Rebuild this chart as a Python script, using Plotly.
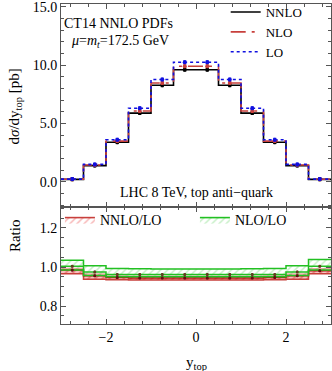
import plotly.graph_objects as go

# bin edges and centres in y_top
edges = [-3.0, -2.5, -2.0, -1.5, -1.0, -0.5, 0.0, 0.5, 1.0, 1.5, 2.0, 2.5, 3.0]
centers = [-2.75, -2.25, -1.75, -1.25, -0.75, -0.25, 0.25, 0.75, 1.25, 1.75, 2.25, 2.75]

# d sigma / d y_top [pb]
nnlo = [0.22, 1.40, 3.40, 5.90, 8.28, 9.62, 9.62, 8.28, 5.90, 3.40, 1.40, 0.22]
nlo = [0.23, 1.45, 3.50, 6.08, 8.48, 9.92, 9.92, 8.48, 6.08, 3.50, 1.45, 0.23]
lo = [0.24, 1.50, 3.62, 6.32, 8.78, 10.26, 10.26, 8.78, 6.32, 3.62, 1.50, 0.24]

# ratios to LO
r_nlo = [1.004, 0.975, 0.962, 0.962, 0.962, 0.962, 0.962, 0.962, 0.962, 0.962, 0.975, 1.004]
r_nlo_hi = [1.034, 1.006, 0.992, 0.991, 0.990, 0.990, 0.990, 0.990, 0.991, 0.992, 1.006, 1.038]
r_nlo_lo = [0.985, 0.956, 0.950, 0.950, 0.950, 0.950, 0.950, 0.950, 0.950, 0.950, 0.956, 0.985]
r_nnlo = [0.984, 0.955, 0.946, 0.944, 0.944, 0.944, 0.944, 0.944, 0.944, 0.946, 0.955, 0.981]
r_nnlo_hi = [0.994, 0.965, 0.955, 0.954, 0.954, 0.954, 0.954, 0.954, 0.954, 0.955, 0.965, 0.992]
r_nnlo_lo = [0.966, 0.937, 0.935, 0.933, 0.933, 0.933, 0.933, 0.933, 0.933, 0.935, 0.937, 0.966]

FONT = "Liberation Serif"
RED = "#c8403c"
BLUE = "#1010e0"
GREEN = "#22c022"


def step(v):
    return v + [v[-1]]


fig = go.Figure()

# ---- top panel ----
fig.add_trace(go.Scatter(x=edges, y=step(nnlo), mode="lines", line_shape="hv",
                         line=dict(color="black", width=1.6), name="NNLO"))
fig.add_trace(go.Scatter(x=edges, y=step(nlo), mode="lines", line_shape="hv",
                         line=dict(color=RED, width=1.6, dash="longdashdot"), name="NLO"))
fig.add_trace(go.Scatter(x=edges, y=step(lo), mode="lines", line_shape="hv",
                         line=dict(color=BLUE, width=1.6, dash="dot"), name="LO"))
for vals, col in [(nnlo, "black"), (nlo, RED), (lo, BLUE)]:
    fig.add_trace(go.Scatter(x=centers, y=vals, mode="markers", showlegend=False,
                             marker=dict(color=col, size=4),
                             error_y=dict(type="constant", value=0.12, color=col,
                                          thickness=1, width=1.5)))

# ---- ratio panel ----
fig.add_trace(go.Scatter(x=edges, y=step(r_nnlo_lo), mode="lines", line_shape="hv",
                         line=dict(color=RED, width=1.5), showlegend=False,
                         xaxis="x2", yaxis="y2"))
fig.add_trace(go.Scatter(x=edges, y=step(r_nnlo_hi), mode="lines", line_shape="hv",
                         line=dict(color="rgba(200,64,60,0.5)", width=0.8), fill="tonexty",
                         fillcolor="rgba(0,0,0,0)",
                         fillpattern=dict(shape="/", fgcolor="#d83838", bgcolor="rgba(235,120,120,0.45)",
                                          size=5, solidity=0.35),
                         showlegend=False, xaxis="x2", yaxis="y2"))
fig.add_trace(go.Scatter(x=edges, y=step(r_nnlo), mode="lines", line_shape="hv",
                         line=dict(color="#b01010", width=1.5), showlegend=False,
                         xaxis="x2", yaxis="y2"))

fig.add_trace(go.Scatter(x=edges, y=step(r_nlo_lo), mode="lines", line_shape="hv",
                         line=dict(color=GREEN, width=1.5), showlegend=False,
                         xaxis="x2", yaxis="y2"))
fig.add_trace(go.Scatter(x=edges, y=step(r_nlo_hi), mode="lines", line_shape="hv",
                         line=dict(color=GREEN, width=1.5), fill="tonexty",
                         fillcolor="rgba(0,0,0,0)",
                         fillpattern=dict(shape="/", fgcolor="#90e090", bgcolor="rgba(0,0,0,0)",
                                          size=5, solidity=0.3),
                         showlegend=False, xaxis="x2", yaxis="y2"))
fig.add_trace(go.Scatter(x=edges, y=step(r_nlo), mode="lines", line_shape="hv",
                         line=dict(color=GREEN, width=1.5), showlegend=False,
                         xaxis="x2", yaxis="y2"))
for vals, col in [(r_nlo, "#604020"), (r_nnlo, "#601010")]:
    fig.add_trace(go.Scatter(x=centers, y=vals, mode="markers", showlegend=False,
                             marker=dict(color=col, size=3),
                             error_y=dict(type="constant", value=0.004, color=col,
                                          thickness=1, width=1),
                             xaxis="x2", yaxis="y2"))

# legend entries for the ratio bands
fig.add_trace(go.Scatter(x=[None], y=[None], mode="lines", name="NNLO/LO",
                         line=dict(color=RED, width=1.6), fill="toself",
                         fillcolor="rgba(0,0,0,0)",
                         fillpattern=dict(shape="/", fgcolor="#f07070", bgcolor="white",
                                          size=5, solidity=0.3),
                         legend="legend2", xaxis="x2", yaxis="y2"))
fig.add_trace(go.Scatter(x=[None], y=[None], mode="lines", name="NLO/LO",
                         line=dict(color=GREEN, width=1.6), fill="toself",
                         fillcolor="rgba(0,0,0,0)",
                         fillpattern=dict(shape="/", fgcolor="#90e090", bgcolor="white",
                                          size=5, solidity=0.3),
                         legend="legend3", xaxis="x2", yaxis="y2"))

axis_common = dict(showline=True, linecolor="#555555", linewidth=1, mirror="ticks",
                   ticks="inside", ticklen=5, tickcolor="#555555", showgrid=False,
                   zeroline=False, automargin=False, ticklabeloverflow="allow",
                   tickfont=dict(family=FONT, size=14, color="black"))

legend_common = dict(bgcolor="rgba(0,0,0,0)", font=dict(family=FONT, size=14),
                     itemwidth=30, tracegroupgap=0)

fig.update_layout(
    width=332, height=371,
    margin=dict(l=61, r=1, t=4, b=47, autoexpand=False),
    plot_bgcolor="white", paper_bgcolor="white",
    font=dict(family=FONT, size=14, color="black"),
    xaxis=dict(**axis_common, domain=[0, 1], range=[-3, 3], anchor="y",
               showticklabels=False, dtick=2, tick0=0, matches="x2",
               minor=dict(ticks="inside", dtick=0.4, tick0=0, ticklen=3, tickcolor="#555555")),
    yaxis=dict(**axis_common, domain=[0.366, 1], range=[-2.14, 15.25], anchor="x",
               dtick=5, tickformat=".1f",
               minor=dict(ticks="inside", dtick=1, ticklen=3, tickcolor="#555555")),
    xaxis2=dict(**axis_common, domain=[0, 1], range=[-3, 3], anchor="y2",
                dtick=2, tick0=0, tickformat="d",
                minor=dict(ticks="inside", dtick=0.4, tick0=0, ticklen=3, tickcolor="#555555")),
    yaxis2=dict(**axis_common, domain=[0, 0.366], range=[0.708, 1.308], anchor="x2",
                dtick=0.2, tick0=0, tickformat=".1f",
                minor=dict(ticks="inside", dtick=0.05, tick0=0, ticklen=3, tickcolor="#555555")),
    legend=dict(bgcolor="rgba(0,0,0,0)", font=dict(family=FONT, size=13),
                itemwidth=30, tracegroupgap=0,
                x=0.61, y=0.9125, xanchor="left", yanchor="middle", traceorder="normal"),
    legend2=dict(**legend_common, x=-0.004, y=0.325, xanchor="left", yanchor="middle"),
    legend3=dict(**legend_common, x=0.496, y=0.325, xanchor="left", yanchor="middle"),
    annotations=[
        dict(text="CT14 NNLO PDFs", x=0.005, y=0.938, xref="paper", yref="paper",
             showarrow=False, xanchor="left", yanchor="middle", font=dict(size=14)),
        dict(text="<i>μ</i>=<i>m<sub>t</sub></i>=172.5 GeV", x=0.03, y=0.884, xref="paper",
             yref="paper", showarrow=False, xanchor="left", yanchor="middle", font=dict(size=14)),
        dict(text="LHC 8 TeV, top anti−quark", x=0.21, y=0.4125, xref="paper", yref="paper",
             showarrow=False, xanchor="left", yanchor="middle", font=dict(size=14)),
        dict(text="d<i>σ</i>/dy<sub>top</sub> [pb]", x=-0.17, y=0.68, xref="paper", yref="paper",
             showarrow=False, textangle=-90, xanchor="center", yanchor="middle",
             font=dict(size=15)),
        dict(text="Ratio", x=-0.17, y=0.275, xref="paper", yref="paper",
             showarrow=False, textangle=-90, xanchor="center", yanchor="middle",
             font=dict(size=15)),
        dict(text="y<sub>top</sub>", x=0.5, y=-0.122, xref="paper", yref="paper",
             showarrow=False, xanchor="center", yanchor="middle", font=dict(size=15)),
    ],
)

# drop the browser's default 8px page margin so the figure fills the window
fig.write_html("out.html", config={"displayModeBar": False},
               post_script="document.body.style.margin='0';")
